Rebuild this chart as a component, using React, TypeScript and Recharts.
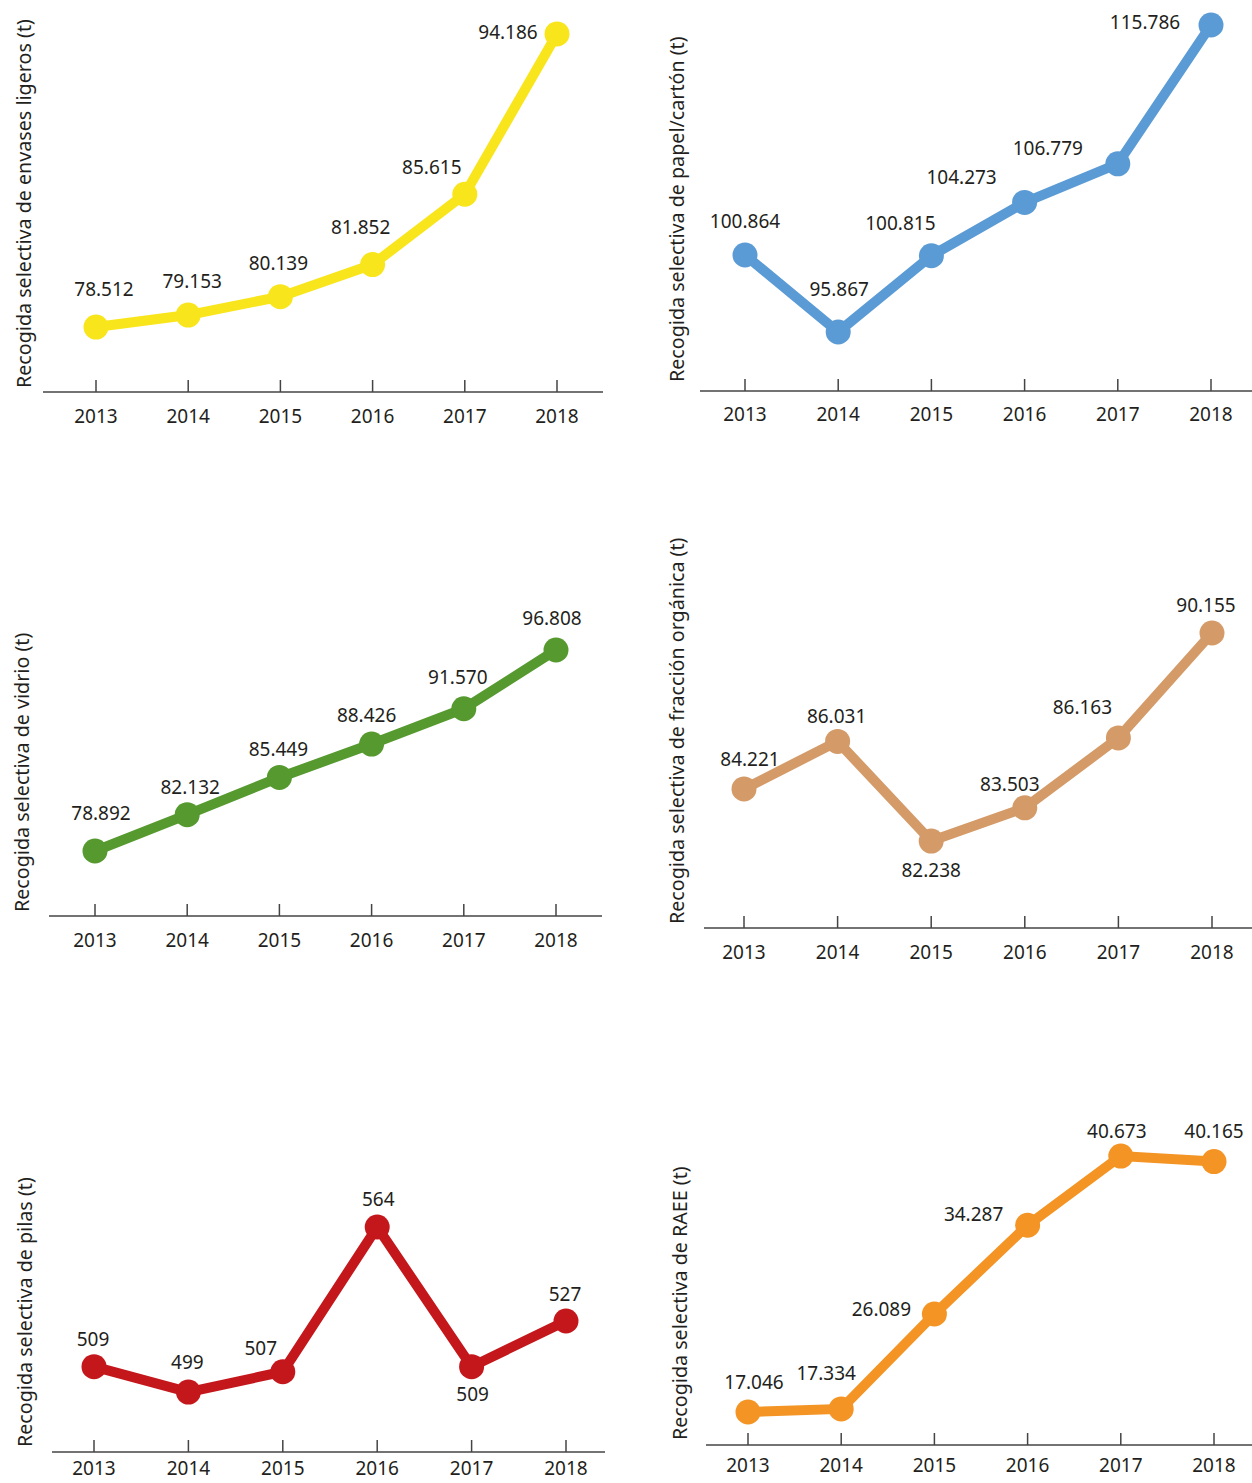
import React from 'react';
import { LineChart, Line, XAxis, YAxis, LabelList } from 'recharts';

// años del eje X
const years = ['2013', '2014', '2015', '2016', '2017', '2018'];

// toneladas recogidas por fracción
const envases = [78512, 79153, 80139, 81852, 85615, 94186];
const papel = [100864, 95867, 100815, 104273, 106779, 115786];
const vidrio = [78892, 82132, 85449, 88426, 91570, 96808];
const organica = [84221, 86031, 82238, 83503, 86163, 90155];
const pilas = [509, 499, 507, 564, 509, 527];
const raee = [17046, 17334, 26089, 34287, 40673, 40165];

const FONT = '"Noto Sans", sans-serif';
const TEXT = '#231f20';
const AXIS = '#444';

// separador de miles al estilo español
const fmt = (n: number) =>
    n >= 1000 ? Math.floor(n / 1000) + '.' + String(n % 1000).padStart(3, '0') : String(n);

interface Panel {
    title: string;
    values: number[];
    color: string;
    box: { left: number; top: number; width: number; height: number };
    margin: { top: number; right: number; bottom: number; left: number };
    padding: { left: number; right: number };
    domain: [number, number];
    offsets: [number, number][]; // desplazamiento de cada etiqueta respecto al punto
    tickDy: number; // línea base del año bajo el eje
    titleX: number;
    titleBottom: number;
}

const panels: Panel[] = [
    {
        title: 'Recogida selectiva de envases ligeros (t)',
        values: envases,
        color: '#f9e51b',
        box: { left: 0, top: 0, width: 620, height: 440 },
        margin: { top: 20, right: 17, bottom: 18, left: 43 },
        padding: { left: 53, right: 46 },
        domain: [75040, 94930],
        offsets: [[8, -38], [4, -34], [-2, -34], [-12, -38], [-33, -27], [-49, -2]],
        tickDy: 31,
        titleX: 24,
        titleBottom: 388
    },
    {
        title: 'Recogida selectiva de papel/cartón (t)',
        values: papel,
        color: '#5b9bd5',
        box: { left: 620, top: 0, width: 632, height: 440 },
        margin: { top: 10, right: 0, bottom: 19, left: 80 },
        padding: { left: 45, right: 41 },
        domain: [92038, 116759],
        offsets: [[0, -34], [1, -43], [-31, -33], [-63, -25], [-70, -16], [-66, -3]],
        tickDy: 30,
        titleX: 677,
        titleBottom: 382
    },
    {
        title: 'Recogida selectiva de vidrio (t)',
        values: vidrio,
        color: '#55992f',
        box: { left: 0, top: 480, width: 620, height: 480 },
        margin: { top: 120, right: 18, bottom: 14, left: 49 },
        padding: { left: 46, right: 46 },
        domain: [73100, 101264],
        offsets: [[6, -38], [3, -28], [-1, -28], [-5, -29], [-6, -32], [-4, -32]],
        tickDy: 31,
        titleX: 22,
        titleBottom: 912
    },
    {
        title: 'Recogida selectiva de fracción orgánica (t)',
        values: organica,
        color: '#d49b69',
        box: { left: 620, top: 480, width: 632, height: 500 },
        margin: { top: 120, right: 0, bottom: 22, left: 84 },
        padding: { left: 40, right: 40 },
        domain: [78930, 91411],
        offsets: [[6, -30], [-1, -25], [0, 29], [-15, -24], [-36, -31], [-6, -28]],
        tickDy: 31,
        titleX: 677,
        titleBottom: 924
    },
    {
        title: 'Recogida selectiva de pilas (t)',
        values: pilas,
        color: '#c4171c',
        box: { left: 0, top: 1000, width: 620, height: 483 },
        margin: { top: 130, right: 15, bottom: 1, left: 52 },
        padding: { left: 42, right: 39 },
        domain: [475.4, 602.2],
        offsets: [[-1, -28], [-1, -30], [-22, -24], [1, -28], [1, 27], [-1, -27]],
        tickDy: 23,
        titleX: 25,
        titleBottom: 1447
    },
    {
        title: 'Recogida selectiva de RAEE (t)',
        values: raee,
        color: '#f39424',
        box: { left: 620, top: 1000, width: 632, height: 483 },
        margin: { top: 120, right: 0, bottom: 8, left: 86 },
        padding: { left: 42, right: 38 },
        domain: [14000, 44000],
        offsets: [[6, -30], [-15, -36], [-53, -5], [-54, -11], [-4, -25], [0, -31]],
        tickDy: 27,
        titleX: 680,
        titleBottom: 1440
    }
];

// marca hacia arriba y año debajo del eje
const YearTick = (props: any) => {
    const { x, y, payload, dy } = props;
    return (
        <g>
            <line x1={x} x2={x} y1={y - 12} y2={y} stroke={AXIS} strokeWidth={1.5} />
            <text x={x} y={y + dy} textAnchor="middle" fontSize={19} fill={TEXT} fontFamily={FONT}>
                {payload.value}
            </text>
        </g>
    );
};

const PanelChart = ({ panel }: { panel: Panel }) => {
    const data = years.map((year, i) => ({ year, v: panel.values[i] }));
    return (
        <>
            <div style={{ position: 'absolute', ...panel.box }}>
                <LineChart width={panel.box.width} height={panel.box.height} data={data} margin={panel.margin}>
                    <XAxis
                        dataKey="year"
                        height={30}
                        padding={panel.padding}
                        tickLine={false}
                        tickSize={0}
                        tickMargin={0}
                        interval={0}
                        axisLine={{ stroke: AXIS, strokeWidth: 1.5 }}
                        tick={(p: any) => <YearTick {...p} dy={panel.tickDy} />}
                    />
                    <YAxis hide domain={panel.domain} type="number" allowDataOverflow />
                    <Line
                        type="linear"
                        dataKey="v"
                        stroke={panel.color}
                        strokeWidth={10}
                        dot={{ r: 12.5, fill: panel.color, stroke: panel.color, strokeWidth: 0 }}
                        activeDot={false}
                        isAnimationActive={false}
                    >
                        <LabelList
                            dataKey="v"
                            content={(p: any) => {
                                const x = p.x ?? p.viewBox?.x;
                                const y = p.y ?? p.viewBox?.y;
                                const [dx, dy] = panel.offsets[p.index] || [0, -30];
                                return (
                                    <text
                                        x={x + dx}
                                        y={y + dy + 7}
                                        textAnchor="middle"
                                        fontSize={19}
                                        fill={TEXT}
                                        fontFamily={FONT}
                                    >
                                        {fmt(p.value)}
                                    </text>
                                );
                            }}
                        />
                    </Line>
                </LineChart>
            </div>
            <div
                style={{
                    position: 'absolute',
                    left: panel.titleX - 13,
                    top: panel.titleBottom,
                    height: 26,
                    lineHeight: '26px',
                    whiteSpace: 'nowrap',
                    transformOrigin: '0 0',
                    transform: 'rotate(-90deg)',
                    fontFamily: FONT,
                    fontSize: 19.7,
                    color: TEXT
                }}
            >
                {panel.title}
            </div>
        </>
    );
};

export default function App() {
    return (
        <div
            style={{
                position: 'absolute',
                left: 0,
                top: 0,
                width: 1252,
                height: 1483,
                background: '#fff',
                overflow: 'hidden'
            }}
        >
            {panels.map((p) => (
                <PanelChart key={p.title} panel={p} />
            ))}
        </div>
    );
}
